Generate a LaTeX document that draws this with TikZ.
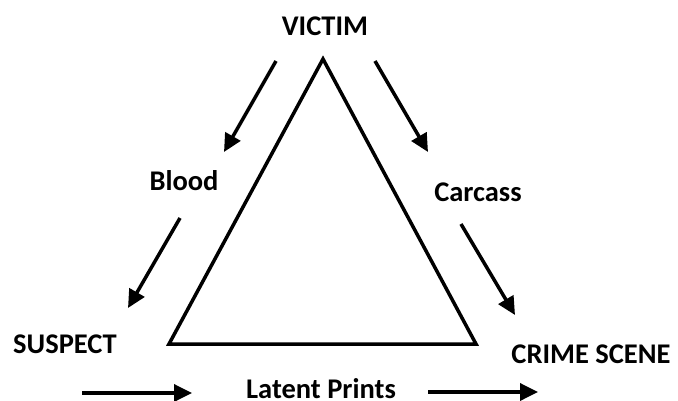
\documentclass[tikz,border=0pt]{standalone}
\usepackage{fontspec}
\setmainfont{Carlito}
\usetikzlibrary{arrows.meta}
\begin{document}
\begin{tikzpicture}[x=1pt,y=-1pt,
  lbl/.style={font=\fontsize{28.5}{32}\selectfont\bfseries, inner sep=0pt, anchor=base},
  arr/.style={line width=3.5pt, -{Triangle[length=18pt,width=17pt]}},
  tri/.style={line width=3.5pt, line join=miter}]
\useasboundingbox (0,0) rectangle (678,400);
% labels
\node[lbl] (victim) at (325,35) {VICTIM};
\node[lbl] (blood) at (184,190) {Blood};
\node[lbl] (carcass) at (478,201) {Carcass};
\node[lbl] (suspect) at (65,353) {SUSPECT};
\node[lbl] (scene) at (591,363) {CRIME SCENE};
\node[lbl] (latent) at (321,398) {Latent Prints};
% triangle
\coordinate (apex) at (323,59);
\coordinate (bl) at (169,344);
\coordinate (br) at (476,344);
\draw[tri] (apex) -- (bl) -- (br) -- cycle;
% arrow end points
\coordinate (b1s) at (276,61);  \coordinate (b1e) at (224,152);
\coordinate (b2s) at (180,218); \coordinate (b2e) at (128,308);
\coordinate (c1s) at (375,61);  \coordinate (c1e) at (428,152);
\coordinate (c2s) at (461,224); \coordinate (c2e) at (515,315);
\coordinate (l1s) at (82,393);  \coordinate (l1e) at (192,393);
\coordinate (l2s) at (428,392); \coordinate (l2e) at (538,392);
\draw[arr] (b1s) -- (b1e);
\draw[arr] (b2s) -- (b2e);
\draw[arr] (c1s) -- (c1e);
\draw[arr] (c2s) -- (c2e);
\draw[arr] (l1s) -- (l1e);
\draw[arr] (l2s) -- (l2e);
\end{tikzpicture}
\end{document}
